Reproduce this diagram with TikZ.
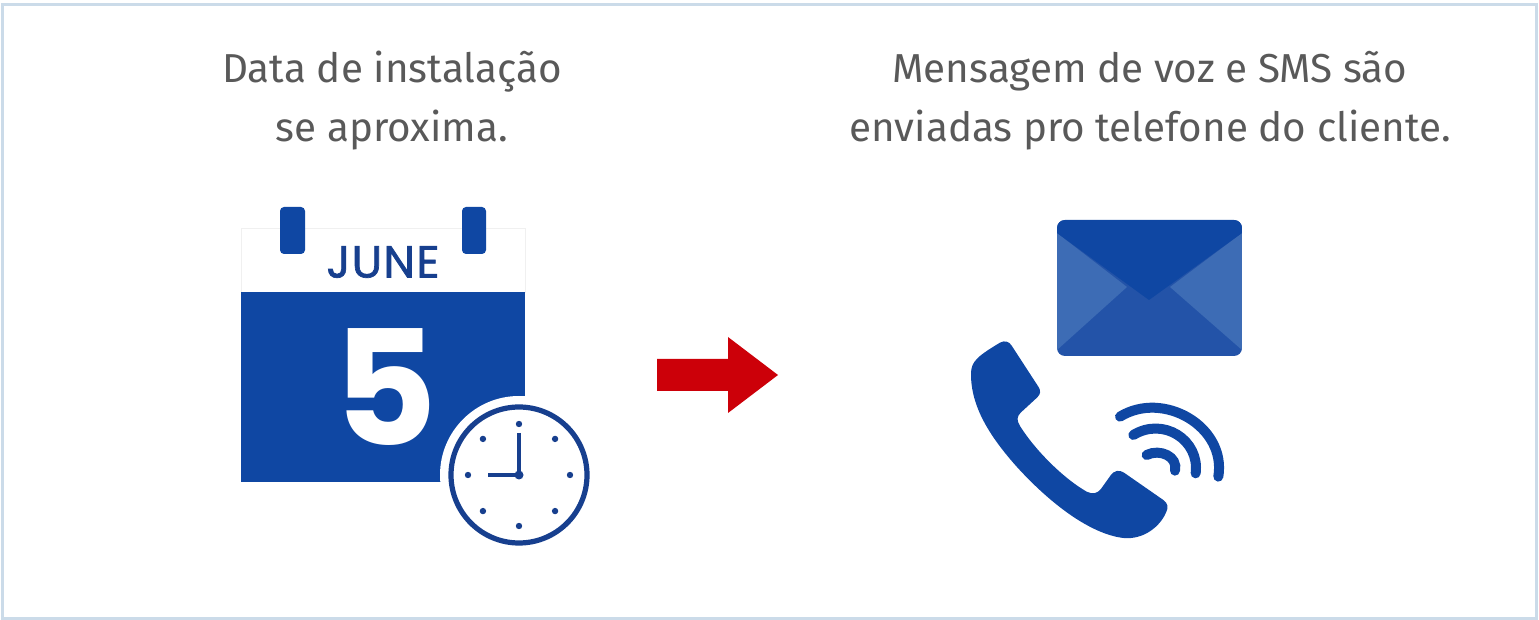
\documentclass[tikz,border=0pt]{standalone}
\usepackage{fontspec}
\setmainfont{Fira Sans}
\newfontfamily\iconfont{Poppins}
\usetikzlibrary{calc,positioning}
\definecolor{framecol}{HTML}{CBDBE9}
\definecolor{textcol}{HTML}{595959}
\definecolor{bluecol}{HTML}{0F47A3}
\definecolor{bluedark}{HTML}{173F8E}
\definecolor{bluemid}{HTML}{2353A8}
\definecolor{bluelight}{HTML}{3D6CB5}
\definecolor{redcol}{HTML}{CC0009}

\begin{document}
\begin{tikzpicture}[
      x=0.5pt,y=-0.5pt,
      caption/.style={text=textcol,align=center,inner sep=0,
        font={\fontsize{20.2}{29.5}\selectfont}},
      ring/.style={fill=bluecol,rounded corners=2pt},
      sheet/.style={fill=white,draw=black!6,line width=0.4pt},
      dot/.style={circle,fill=bluedark,minimum width=3.2pt,inner sep=0},
      hand/.style={draw=bluedark,line width=2pt},
      wave/.style={draw=bluecol,line width=5pt,line cap=round}
  ]
  \useasboundingbox (0,0) rectangle (1539,620);
  \draw[framecol,line width=1.75pt] (2.5,4.5) rectangle (1536.5,618.5);

  \node[caption] (datatxt) at (392,100.5) {Data de instalação\\se aproxima.};
  \node[caption] (msgtxt) at (1150,100.5) {Mensagem de voz e SMS são\\enviadas pro telefone do cliente.};

  % calendar
  \fill[sheet] (241,228) rectangle (525,292);
  \fill[bluecol] (241,292) rectangle (525,482);
  \fill[ring] (280,207) rectangle (305,254);
  \fill[ring] (462,207) rectangle (486,254);
  \node[text=bluedark,inner sep=0,font={\iconfont\addfontfeature{FakeBold=1.5,LetterSpace=3}\fontsize{22.5}{22.5}\selectfont}] (month) at (383,262) {JUNE};
  \node[text=white,inner sep=0,font={\iconfont\bfseries\fontsize{80}{80}\selectfont}] (day) at (385,387) {5};

  % clock
  \fill[white] (519,475) circle (79);
  \draw[bluedark,line width=2.6pt] (519,475) circle (68);
  \foreach \a in {0,45,...,315}
    \node[dot] at ($(519,475)+(\a:51)$) {};
  \coordinate (hub) at (519,475);
  \draw[hand] (519,433) -- (hub) -- (488,475);
  \fill[bluedark] (hub) circle (4.5);

  % arrow
  \fill[redcol] (657,359) -- (728,359) -- (728,337) -- (778,375) -- (728,413) -- (728,391) -- (657,391) -- cycle;

  % envelope
  \begin{scope}
    \clip[rounded corners=4pt] (1057,220) rectangle (1242,356);
    \fill[bluemid] (1057,220) rectangle (1242,356);
    \fill[bluelight] (1057,233) -- (1127,287) -- (1057,350) -- cycle;
    \fill[bluelight] (1242,233) -- (1170,287) -- (1242,350) -- cycle;
    \fill[bluecol] (1057,220) -- (1057,233) -- (1149,300) -- (1242,233) -- (1242,220) -- cycle;
  \end{scope}

  % phone, traced at three times the size
  \begin{scope}[shift={(960,330)},x=0.5pt/3,y=-0.5pt/3]
    \fill[bluecol] (120,38) .. controls (135,30) and (148,35) .. (155,47)
      -- (235,170) .. controls (243,182) and (242,192) .. (232,202)
      -- (182,248) .. controls (170,260) and (170,272) .. (180,288)
      .. controls (225,360) and (310,445) .. (380,485)
      .. controls (398,494) and (412,490) .. (422,478)
      -- (452,436) .. controls (462,422) and (478,418) .. (492,428)
      -- (610,510) .. controls (624,520) and (626,532) .. (618,548)
      .. controls (600,590) and (550,630) .. (490,624)
      .. controls (390,612) and (270,520) .. (170,410)
      .. controls (90,320) and (32,230) .. (33,130)
      .. controls (34,95) and (50,80) .. (120,38) -- cycle;
  \end{scope}

  % waves
  \begin{scope}[shift={(950,200)},x=0.5pt/3,y=-0.5pt/3]
    \draw[wave] (510,650) .. controls (640,570) and (830,680) .. (805,830);
    \draw[wave] (550,705) .. controls (640,650) and (750,720) .. (737,820);
    \draw[wave] (590,765) .. controls (630,745) and (685,770) .. (675,812);
  \end{scope}
\end{tikzpicture}
\end{document}
